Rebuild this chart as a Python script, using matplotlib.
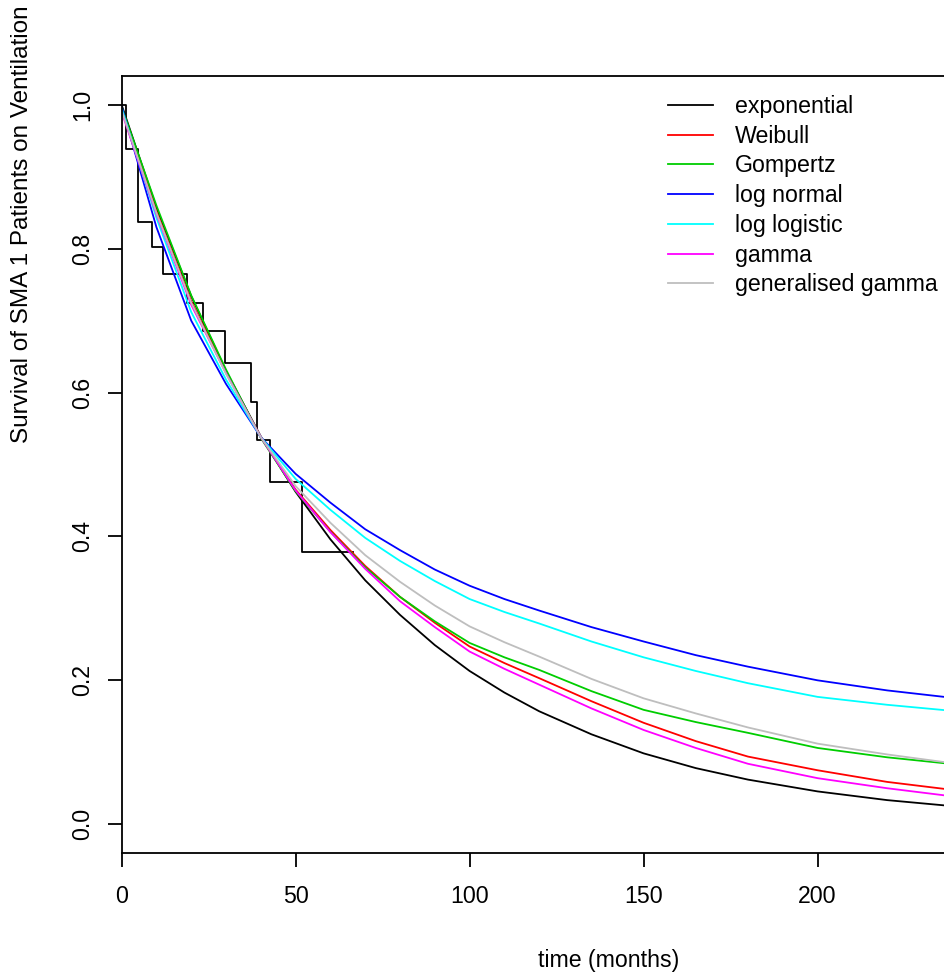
import numpy as np
import matplotlib
matplotlib.use("Agg")
import matplotlib.pyplot as plt

plt.rcParams['font.family'] = ['Liberation Sans', 'DejaVu Sans']

# Kaplan-Meier steps
km_time = [0, 1.3, 4.6, 8.6, 12.0, 18.9, 23.3, 29.8, 37.1, 38.8, 42.6, 51.8, 66.6]
km_surv = [1.0, 0.938, 0.837, 0.802, 0.765, 0.725, 0.686, 0.641, 0.587, 0.534, 0.475, 0.379, 0.379]

# fitted curves, values read at these times
t = [0, 10, 20, 30, 40, 50, 60, 70, 80, 90, 100, 110, 120, 135, 150, 165, 180, 200, 220, 240]
s_exp = [1.0, 0.857, 0.734, 0.630, 0.539, 0.462, 0.396, 0.339, 0.291, 0.249, 0.213, 0.183, 0.157, 0.125, 0.0985, 0.078, 0.062, 0.0456, 0.0335, 0.0246]
s_weib = [0.995, 0.852, 0.727, 0.628, 0.538, 0.465, 0.409, 0.359, 0.316, 0.280, 0.247, 0.224, 0.203, 0.171, 0.141, 0.1155, 0.094, 0.075, 0.0588, 0.047]
s_gomp = [0.997, 0.860, 0.735, 0.632, 0.537, 0.463, 0.4065, 0.357, 0.316, 0.282, 0.252, 0.232, 0.2145, 0.185, 0.159, 0.142, 0.127, 0.106, 0.093, 0.083]
s_lnorm = [0.998, 0.830, 0.700, 0.612, 0.538, 0.487, 0.447, 0.410, 0.381, 0.354, 0.3315, 0.313, 0.297, 0.274, 0.254, 0.235, 0.219, 0.200, 0.186, 0.175]
s_llog = [0.995, 0.843, 0.712, 0.618, 0.538, 0.480, 0.437, 0.398, 0.366, 0.338, 0.313, 0.295, 0.279, 0.254, 0.232, 0.213, 0.196, 0.177, 0.166, 0.157]
s_gamma = [0.990, 0.848, 0.722, 0.627, 0.538, 0.464, 0.406, 0.355, 0.310, 0.274, 0.240, 0.216, 0.194, 0.161, 0.131, 0.106, 0.084, 0.064, 0.050, 0.038]
s_ggamma = [0.992, 0.850, 0.725, 0.626, 0.538, 0.470, 0.419, 0.374, 0.337, 0.304, 0.275, 0.253, 0.233, 0.202, 0.175, 0.154, 0.1345, 0.112, 0.097, 0.084]

labels = ["exponential", "Weibull", "Gompertz", "log normal", "log logistic", "gamma", "generalised gamma"]
colors = ["black", "#FF0000", "#00CD00", "#0000FF", "#00FFFF", "#FF00FF", "#BEBEBE"]
curves = [s_exp, s_weib, s_gomp, s_lnorm, s_llog, s_gamma, s_ggamma]

W, H = 945, 975
fig = plt.figure(figsize=(W / 100, H / 100), dpi=100)

# axes box runs past the right edge of the picture, as in the original
x0, x1 = 121.6, 121.6 + 3.48 * 250
ax = fig.add_axes([x0 / W, (H - 853) / H, (x1 - x0) / W, (853 - 76) / H])

ax.step(km_time, km_surv, where='post', color='black', lw=1.3)
for s, c, lab in zip(curves, colors, labels):
    ax.plot(t, s, color=c, lw=1.3, label=lab)

ax.set_xlim(0, 250)
ax.set_ylim(-0.04, 1.04)
ax.set_xticks([0, 50, 100, 150, 200])
ax.set_yticks([0.0, 0.2, 0.4, 0.6, 0.8, 1.0])
ax.set_yticklabels(["0.0", "0.2", "0.4", "0.6", "0.8", "1.0"], rotation=90, va='center')
ax.tick_params(length=10, width=1.3, labelsize=16.7)
ax.tick_params(axis='x', pad=13)
ax.tick_params(axis='y', pad=10)
for sp in ax.spines.values():
    sp.set_linewidth(1.3)

ax.set_xlabel("time (months)", fontsize=16.7)
ax.xaxis.set_label_coords((609 - x0) / (x1 - x0), -(960 - 853) / (853 - 76), transform=ax.transAxes)
ax.xaxis.label.set_va('center')
fig.text(22 / W, 1 - 224 / H, "Survival of SMA 1 Patients on Ventilation", rotation=90,
         fontsize=17.5, ha='center', va='center')

ax.legend(loc='upper left', bbox_to_anchor=(668 / W, 1 - 95 / H), bbox_transform=fig.transFigure,
          frameon=False, fontsize=16.7, handlelength=1.95, handletextpad=0.95,
          labelspacing=0.29, borderpad=0, borderaxespad=0)

fig.savefig("out.png", dpi=100)
